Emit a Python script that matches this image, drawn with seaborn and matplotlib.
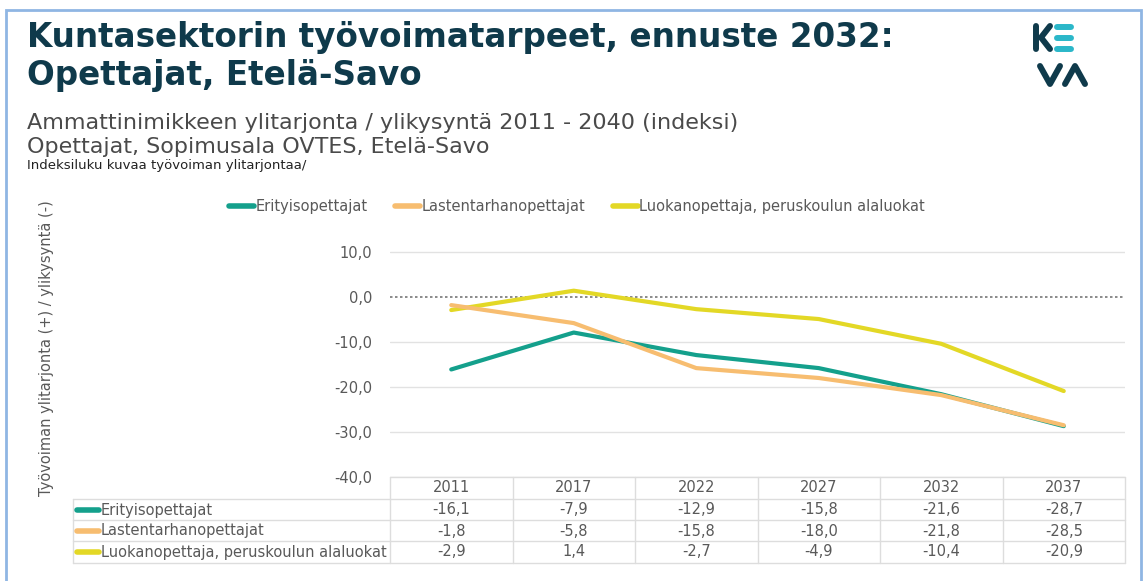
import numpy as np
import pandas as pd
import matplotlib
matplotlib.use("Agg")
import matplotlib.pyplot as plt
from matplotlib.lines import Line2D
from matplotlib.patches import Rectangle
import seaborn as sns

# -----------------------------------
# data
# -----------------------------------
years = ["2011", "2017", "2022", "2027", "2032", "2037"]
series_names = ["Erityisopettajat", "Lastentarhanopettajat",
                "Luokanopettaja, peruskoulun alaluokat"]
erityis = [-16.1, -7.9, -12.9, -15.8, -21.6, -28.7]
lastentarha = [-1.8, -5.8, -15.8, -18.0, -21.8, -28.5]
luokan = [-2.9, 1.4, -2.7, -4.9, -10.4, -20.9]
colors = ["#14a08c", "#f7bd70", "#e3d826"]
yticks = [-40, -30, -20, -10, 0, 10]

values = [erityis, lastentarha, luokan]
df = pd.DataFrame({
    "pos": np.tile(np.arange(len(years)), 3),
    "arvo": np.concatenate(values),
    "sarja": np.repeat(series_names, len(years)),
})

W, H = 1145, 581
fx = lambda x: x / W
fy = lambda y: 1 - y / H

sns.set_theme(style="white")
plt.rcParams["font.family"] = ["DejaVu Sans"]
fig = plt.figure(figsize=(W / 100, H / 100), dpi=100)
fig.patch.set_facecolor("white")

# frame
fig.add_artist(Rectangle((fx(6), -0.05), fx(1135), fy(10) + 0.05, transform=fig.transFigure,
                         fill=False, edgecolor="#8fb6e3", lw=2))

# titles
navy = "#0f3a4b"
grey = "#595959"
fig.text(fx(27), fy(37), "Kuntasektorin työvoimatarpeet, ennuste 2032:",
         fontsize=23.5, fontweight="bold", color=navy, va="center")
fig.text(fx(27), fy(76), "Opettajat, Etelä-Savo",
         fontsize=23.5, fontweight="bold", color=navy, va="center")
fig.text(fx(27), fy(123), "Ammattinimikkeen ylitarjonta / ylikysyntä 2011 - 2040 (indeksi)",
         fontsize=16, color="#4a4a4a", va="center")
fig.text(fx(27), fy(147), "Opettajat, Sopimusala OVTES, Etelä-Savo",
         fontsize=16, color="#4a4a4a", va="center")
fig.text(fx(27), fy(166), "Indeksiluku kuvaa työvoiman ylitarjontaa/",
         fontsize=9.5, color="#222222", va="center")

# logo (KEVA)
def logo_line(xs, ys, c):
    fig.add_artist(Line2D([fx(x) for x in xs], [fy(y) for y in ys], color=c, lw=4.3,
                          solid_capstyle="round", solid_joinstyle="round",
                          transform=fig.transFigure))

logo_line([1036, 1036], [26, 49], navy)
logo_line([1050, 1041, 1050], [26, 37.5, 49], navy)
for yy in [27, 38, 49]:
    logo_line([1057, 1071], [yy, yy], "#2bb7c9")
logo_line([1040, 1050, 1060], [66, 84, 66], navy)
logo_line([1065, 1075, 1085], [84, 66, 84], navy)

# y label
fig.text(fx(47), fy(348), "Työvoiman ylitarjonta (+) / ylikysyntä (-)", rotation=90,
         fontsize=10.5, color=grey, va="center", ha="center")

# -----------------------------------
# chart
# -----------------------------------
ax = fig.add_axes([fx(390), fy(477), fx(1125) - fx(390), fy(229.5) - fy(477)])
ax.set_facecolor("white")
for yv in yticks:
    if yv == 0:
        ax.axhline(0, color="#777777", lw=1.2, ls=(0, (1.5, 1.5)), zorder=1)
    else:
        ax.axhline(yv, color="#e2e2e2", lw=1, zorder=1)

order = [0, 2, 1]
for i in order:
    sub = df[df["sarja"] == series_names[i]]
    sns.lineplot(data=sub, x="pos", y="arvo", color=colors[i], lw=3, ax=ax,
                 legend=False, zorder=3, solid_capstyle="round")

ax.set_xlim(-0.5, len(years) - 0.5)
ax.set_ylim(-40, 15)
ax.set_yticks(yticks)
ax.set_yticklabels([f"{v:.1f}".replace(".", ",") for v in yticks],
                   fontsize=10.5, color=grey)
ax.tick_params(axis="y", length=0, pad=13)
ax.set_xticks([])
ax.set_xlabel("")
ax.set_ylabel("")
for s in ax.spines.values():
    s.set_visible(False)

# legend
handles = [Line2D([], [], color=c, lw=4, solid_capstyle="round") for c in colors]
fig.legend(handles, series_names, loc="center", bbox_to_anchor=(fx(577), fy(207)),
           ncol=3, frameon=False, fontsize=10.5, handlelength=1.7, handletextpad=0.1,
           columnspacing=1.9, labelcolor=grey)

# -----------------------------------
# data table
# -----------------------------------
tr = matplotlib.transforms.blended_transform_factory(ax.transData, fig.transFigure)
grid_c = "#dddddd"
n = len(years)
row_y = [510, 531, 552]
fig.add_artist(Line2D([fx(390), fx(1125)], [fy(477), fy(477)], color=grid_c, lw=1,
                      transform=fig.transFigure))
for yy in [499, 520, 541, 563]:
    fig.add_artist(Line2D([fx(73), fx(1125)], [fy(yy), fy(yy)], color=grid_c, lw=1,
                          transform=fig.transFigure))
for k in range(n + 1):
    fig.add_artist(Line2D([k - 0.5, k - 0.5], [fy(477), fy(563)], color=grid_c, lw=1,
                          transform=tr))
fig.add_artist(Line2D([fx(73), fx(73)], [fy(499), fy(563)], color=grid_c, lw=1,
                      transform=fig.transFigure))

for k, yr in enumerate(years):
    fig.text(k, fy(488), yr, transform=tr, ha="center", va="center",
             fontsize=10.5, color=grey)
for i, name in enumerate(series_names):
    fig.add_artist(Line2D([fx(77), fx(99)], [fy(row_y[i]), fy(row_y[i])], color=colors[i],
                          lw=4, solid_capstyle="round", transform=fig.transFigure))
    fig.text(fx(101), fy(row_y[i]), name, ha="left", va="center",
             fontsize=10.5, color=grey)
    for k, v in enumerate(values[i]):
        fig.text(k, fy(row_y[i]), f"{v:.1f}".replace(".", ","), transform=tr,
                 ha="center", va="center", fontsize=10.5, color=grey)

fig.savefig("out.png", dpi=100)
